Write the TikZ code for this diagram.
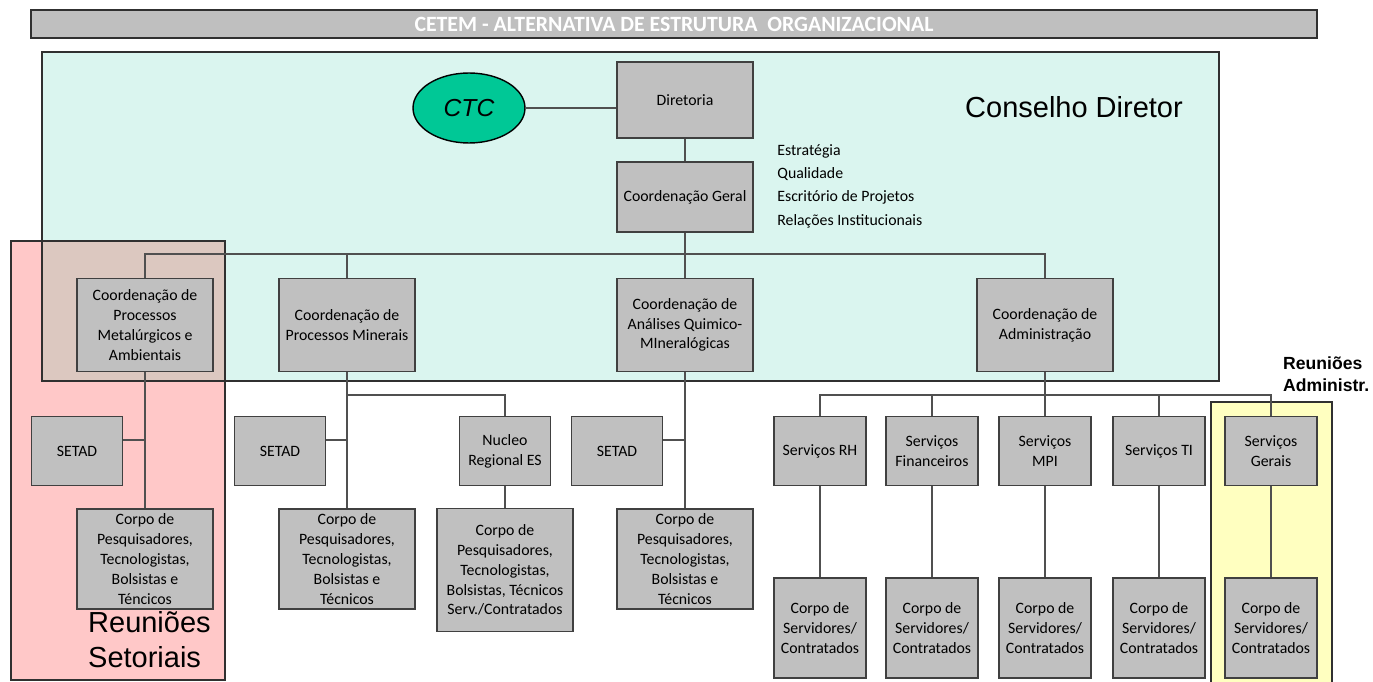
\documentclass[tikz,border=0pt]{standalone}
\usepackage{fontspec}
\setmainfont{Carlito}
\newfontfamily\arialfont{Liberation Sans}
\usetikzlibrary{shapes.geometric}

\definecolor{boxgray}{HTML}{C0C0C0}
\definecolor{edgegray}{HTML}{404040}
\definecolor{linkgray}{HTML}{505050}
\definecolor{framegray}{HTML}{303030}
\definecolor{titlegray}{HTML}{BFBFBF}
\definecolor{cyanbg}{HTML}{DAF5EF}
\definecolor{pinkbg}{HTML}{FFC8C8}
\definecolor{mixbg}{HTML}{DCC8C0}
\definecolor{yellowbg}{HTML}{FFFFC0}
\definecolor{ctcgreen}{HTML}{00C896}

\begin{document}
\begin{tikzpicture}[x=0.02cm, y=-0.02cm,
    box/.style={draw=edgegray, line width=1.1pt, fill=boxgray, inner sep=0.5pt,
      align=center, font=\fontsize{9}{11.3}\selectfont},
    wide/.style={box, minimum width=2.72cm, minimum height=1.86cm},
    narrow/.style={box, minimum width=1.82cm, minimum height=1.38cm},
    staff/.style={box, minimum width=2.72cm, minimum height=2cm},
    crew/.style={box, minimum width=1.84cm, minimum height=2cm},
    link/.style={draw=linkgray, line width=1.1pt},
    frame/.style={draw=framegray, line width=0.9pt}]

\useasboundingbox (0,0) rectangle (1373,682);

% background areas
\fill[pinkbg] (11,241) rectangle (225,680);
\fill[cyanbg] (42,52) rectangle (1219,381);
\fill[mixbg] (42,241) rectangle (225,381);
\draw[frame] (42,52) rectangle (1219,381);
\draw[frame] (11,241) rectangle (225,680);
\fill[yellowbg] (1211,402) rectangle (1332,682);
\draw[frame] (1211,682) -- (1211,402) -- (1332,402) -- (1332,682);

% title bar
\node[draw=framegray, line width=1pt, fill=titlegray, minimum width=25.72cm,
  minimum height=0.56cm, inner sep=0pt, text=white,
  font=\bfseries\fontsize{12.4}{14}\selectfont] (title) at (674,24)
  {CETEM - ALTERNATIVA DE ESTRUTURA\ \ ORGANIZACIONAL};

% labels
\node[font=\arialfont\fontsize{16.5}{20}\selectfont] (cdlabel) at (1074,107) {Conselho Diretor};
\node[font=\arialfont\fontsize{16.5}{20}\selectfont, align=left, anchor=west] (rslabel) at (82,640)
  {Reuniões\\Setoriais};
\node[font=\arialfont\bfseries\fontsize{10}{12.5}\selectfont, align=left, anchor=west]
  (ralabel) at (1277,374) {Reuniões\\Administr.};
\node[anchor=west, font=\fontsize{9}{13.3}\selectfont, align=left, inner sep=0pt]
  (tasks) at (777,186) {Estratégia\\Qualidade\\Escritório de Projetos\\Relações Institucionais};

% define the top
\node[ellipse, draw=black, line width=0.8pt, fill=ctcgreen, minimum width=2.24cm,
  minimum height=1.4cm, font=\arialfont\itshape\fontsize{14}{16}\selectfont] (ctc) at (469,108) {CTC};
\node[box, minimum width=2.72cm, minimum height=1.52cm] (dir) at (685,100) {Diretoria};
\node[box, minimum width=2.72cm, minimum height=1.4cm] (cgeral) at (685,197) {Coordenação Geral};

% define the coordinations
\node[wide] (cmet) at (145,325) {Coordenação de\\Processos\\Metalúrgicos e\\Ambientais};
\node[wide] (cmin) at (347,325) {Coordenação de\\Processos Minerais};
\node[wide] (canal) at (685,325) {Coordenação de\\Análises Quimico-\\MIneralógicas};
\node[wide] (cadm) at (1045,325) {Coordenação de\\Administração};

% define the second row
\node[narrow] (setad1) at (77,451) {SETAD};
\node[narrow] (setad2) at (280,451) {SETAD};
\node[narrow] (nucleo) at (505,451) {Nucleo\\Regional ES};
\node[narrow] (setad3) at (617,451) {SETAD};
\node[narrow, minimum width=1.84cm] (srh) at (820,451) {Serviços RH};
\node[narrow, minimum width=1.84cm] (sfin) at (932,451) {Serviços\\Financeiros};
\node[narrow, minimum width=1.84cm] (smpi) at (1045,451) {Serviços\\MPI};
\node[narrow, minimum width=1.84cm] (sti) at (1159,451) {Serviços TI};
\node[narrow, minimum width=1.84cm] (sger) at (1271,451) {Serviços\\Gerais};

% define the staff
\node[staff] (corpo1) at (145,559) {Corpo de\\Pesquisadores,\\Tecnologistas,\\Bolsistas e\\Téncicos};
\node[staff] (corpo2) at (347,559) {Corpo de\\Pesquisadores,\\Tecnologistas,\\Bolsistas e\\Técnicos};
\node[staff, minimum height=2.46cm] (corpo3) at (505,570)
  {Corpo de\\Pesquisadores,\\Tecnologistas,\\Bolsistas, Técnicos\\Serv./Contratados};
\node[staff] (corpo4) at (685,559) {Corpo de\\Pesquisadores,\\Tecnologistas,\\Bolsistas e\\Técnicos};
\node[crew] (srv1) at (820,628) {Corpo de\\Servidores/\\Contratados};
\node[crew] (srv2) at (932,628) {Corpo de\\Servidores/\\Contratados};
\node[crew] (srv3) at (1045,628) {Corpo de\\Servidores/\\Contratados};
\node[crew] (srv4) at (1159,628) {Corpo de\\Servidores/\\Contratados};
\node[crew] (srv5) at (1271,628) {Corpo de\\Servidores/\\Contratados};

% define the links
\draw[link] (ctc) -- (ctc -| dir.west);
\draw[link] (dir) -- (cgeral)
  (cmet) -- (corpo1)
  (cmin) -- (corpo2)
  (nucleo) -- (corpo3)
  (canal) -- (corpo4)
  (cadm) -- (smpi)
  (srh) -- (srv1)
  (sfin) -- (srv2)
  (smpi) -- (srv3)
  (sti) -- (srv4)
  (sger) -- (srv5);
\draw[link] (cgeral) -- (cgeral |- 0,254);
\draw[link] (cmet.north) -- (cmet.north |- 0,254) -- (cadm.north |- 0,254) -- (cadm.north)
  (cmin.north) -- (cmin.north |- 0,254)
  (canal.north) -- (canal.north |- 0,254);
\draw[link] (setad1.east |- 0,440) -- (cmet.south |- 0,440)
  (setad2.east |- 0,440) -- (cmin.south |- 0,440)
  (setad3.east |- 0,440) -- (canal.south |- 0,440);
\draw[link] (cmin.south |- 0,395) -- (nucleo.north |- 0,395) -- (nucleo.north);
\draw[link] (srh.north) -- (srh.north |- 0,395) -- (sger.north |- 0,395) -- (sger.north)
  (sfin.north) -- (sfin.north |- 0,395)
  (sti.north) -- (sti.north |- 0,395);

\end{tikzpicture}
\end{document}
